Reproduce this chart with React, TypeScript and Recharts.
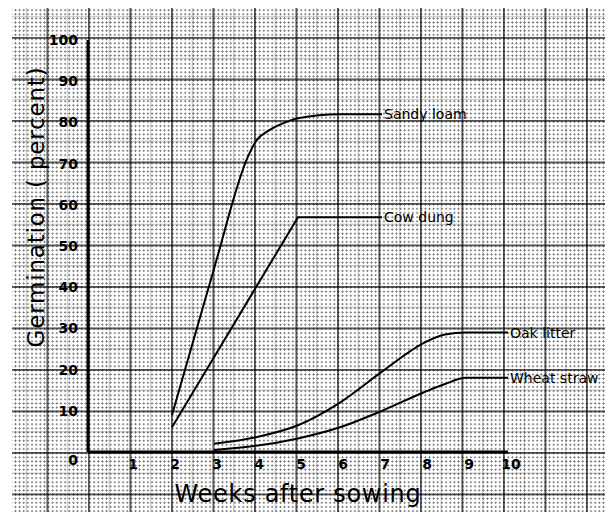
import React from 'react';
import { LineChart, Line, XAxis, YAxis, Label } from 'recharts';

// values (weeks after sowing -> germination %)
const sandyLoam = [
  { week: 2, value: 9 },
  { week: 3, value: 44.5 },
  { week: 3.8, value: 71.5 },
  { week: 4, value: 75.5 },
  { week: 4.3, value: 78 },
  { week: 4.7, value: 80 },
  { week: 5, value: 81 },
  { week: 6, value: 82 },
  { week: 7, value: 82 },
];
const cowDung = [
  { week: 2, value: 6 },
  { week: 5, value: 57 },
  { week: 7, value: 57 },
];
const oakLitter = [
  { week: 3, value: 2 },
  { week: 4, value: 3.6 },
  { week: 5, value: 6.5 },
  { week: 6, value: 12 },
  { week: 7, value: 19.5 },
  { week: 8, value: 26.5 },
  { week: 8.5, value: 28.5 },
  { week: 9, value: 29 },
  { week: 10, value: 29 },
];
const wheatStraw = [
  { week: 3, value: 0.5 },
  { week: 4, value: 1.5 },
  { week: 5, value: 3.3 },
  { week: 6, value: 6 },
  { week: 7, value: 10 },
  { week: 8, value: 14.5 },
  { week: 8.5, value: 16.5 },
  { week: 9, value: 18 },
  { week: 10, value: 18 },
];

const xTicks = [1, 2, 3, 4, 5, 6, 7, 8, 9, 10];
const yTicks = [0, 10, 20, 30, 40, 50, 60, 70, 80, 90, 100];

const FONT = '"DejaVu Sans", sans-serif';

// graph paper look
const paperStyle: React.CSSProperties = {
  position: 'absolute',
  left: 12,
  top: 8,
  right: 0,
  bottom: 0,
  backgroundColor: '#fff',
  backgroundImage: [
    'linear-gradient(to right, rgba(0,0,0,0.55) 1.5px, transparent 1.5px)',
    'linear-gradient(to bottom, rgba(0,0,0,0.55) 1.5px, transparent 1.5px)',
    'linear-gradient(to right, rgba(0,0,0,0.25) 1px, transparent 1px)',
    'linear-gradient(to bottom, rgba(0,0,0,0.25) 1px, transparent 1px)',
    'radial-gradient(circle, rgba(0,0,0,0.55) 0.8px, transparent 1.1px)',
  ].join(','),
  backgroundSize: '41.5px 41.5px, 41.5px 41.5px, 20.75px 20.75px, 20.75px 20.75px, 4.15px 4.15px',
  backgroundPosition: '34.5px 29px, 34.5px 29px, 34.5px 29px, 34.5px 29px, 34.5px 29px',
};

const endLabel = (name: string, count: number) => (props: any) => {
  const { x, y, index } = props;
  if (index !== count - 1) return null;
  return (
    <text x={x + 2} y={y + 5} fontSize={14} fontFamily={FONT} fill="#000">
      {name}
    </text>
  );
};

const XTick = (props: any) => {
  const { x, y, payload } = props;
  return (
    <text x={x + 3} y={y + 9} textAnchor="middle" fontSize={14} fontWeight="bold" fontFamily={FONT} fill="#000">
      {payload.value}
    </text>
  );
};

const YTick = (props: any) => {
  const { x, y, payload } = props;
  const shift = payload.value === 0 ? 8 : 0;
  return (
    <text x={x - 2} y={y + 5 + shift} textAnchor="end" fontSize={14} fontWeight="bold" fontFamily={FONT} fill="#000">
      {payload.value}
    </text>
  );
};

export default function App() {
  return (
    <div style={{ position: 'absolute', left: 0, top: 0, width: 605, height: 512 }}>
      <div style={paperStyle} />
      <div style={{ position: 'absolute', left: 0, top: 0 }}>
        <LineChart width={605} height={512} margin={{ top: 40, right: 97, left: 0, bottom: 0 }}>
          <XAxis
            type="number"
            dataKey="week"
            domain={[0, 10]}
            ticks={xTicks}
            allowDuplicatedCategory={false}
            height={60}
            tickLine={false}
            axisLine={{ stroke: '#000', strokeWidth: 3 }}
            tick={<XTick />}
          >
            <Label
              value="Weeks after sowing"
              position="insideBottom"
              offset={10}
              fontSize={24}
              fontFamily={FONT}
              fill="#000"
              style={{ letterSpacing: '0.7px' }}
            />
          </XAxis>
          <YAxis
            type="number"
            domain={[0, 100]}
            ticks={yTicks}
            width={88}
            tickLine={false}
            axisLine={{ stroke: '#000', strokeWidth: 3 }}
            tick={<YTick />}
          >
            <Label
              content={({ viewBox }: any) => {
                const cx = viewBox.x + 36;
                const cy = viewBox.y + viewBox.height / 2 - 39;
                return (
                  <text
                    x={cx}
                    y={cy}
                    transform={`rotate(-90 ${cx} ${cy})`}
                    textAnchor="middle"
                    dominantBaseline="central"
                    fontSize={23}
                    fontFamily={FONT}
                    fill="#000"
                    style={{ letterSpacing: '0.8px' }}
                  >
                    Germination ( percent)
                  </text>
                );
              }}
            />
          </YAxis>
          <Line data={sandyLoam} dataKey="value" type="monotone" stroke="#000" strokeWidth={2} dot={false} isAnimationActive={false} label={endLabel('Sandy loam', sandyLoam.length)} />
          <Line data={cowDung} dataKey="value" type="linear" stroke="#000" strokeWidth={2} dot={false} isAnimationActive={false} label={endLabel('Cow dung', cowDung.length)} />
          <Line data={oakLitter} dataKey="value" type="monotone" stroke="#000" strokeWidth={2} dot={false} isAnimationActive={false} label={endLabel('Oak litter', oakLitter.length)} />
          <Line data={wheatStraw} dataKey="value" type="monotone" stroke="#000" strokeWidth={2} dot={false} isAnimationActive={false} label={endLabel('Wheat straw', wheatStraw.length)} />
        </LineChart>
      </div>
    </div>
  );
}
